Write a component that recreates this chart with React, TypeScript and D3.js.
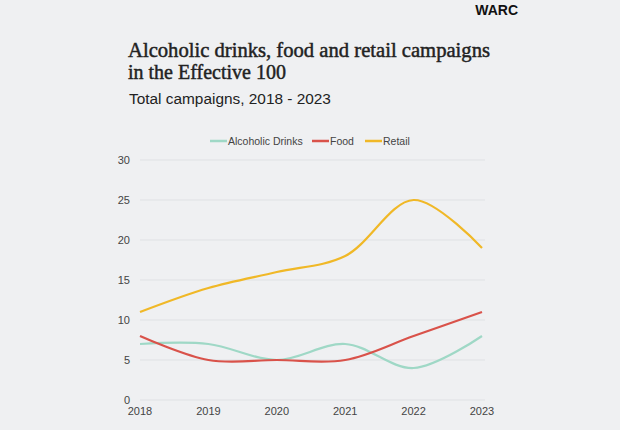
import React from "react";
import * as d3 from "d3";

const years = [2018, 2019, 2020, 2021, 2022, 2023];
const alcoholic = [7, 7, 5, 7, 4, 8];
const food = [8, 5, 5, 5, 8, 11];
const retail = [11, 14, 16, 18, 25, 19];
const yTicks = [0, 5, 10, 15, 20, 25, 30];
const seriesNames = ["Alcoholic Drinks", "Food", "Retail"];
const seriesColors = ["#9fd8c6", "#d9524a", "#f0b827"];

export default function App() {
  const W = 620, H = 430;
  const x = d3.scaleLinear().domain([2018, 2023]).range([140, 482]);
  const y = d3.scaleLinear().domain([0, 30]).range([400, 160]);
  const line = d3
    .line<number>()
    .x((_, i) => x(years[i]))
    .y((d) => y(d))
    .curve(d3.curveCatmullRom.alpha(0.5));
  const all = [alcoholic, food, retail];
  const legendX = [210, 312, 365];
  return (
    <div style={{ position: "absolute", left: 0, top: 0 }}>
      <svg width={W} height={H} style={{ display: "block" }}>
        <rect width={W} height={H} fill="#eff0f2" />
        <text x={518} y={15} textAnchor="end" fontFamily="Liberation Sans, Arial" fontWeight="bold" fontSize={14} fill="#111">WARC</text>
        <text x={128} y={57} fontFamily="Liberation Serif, serif" fontSize={20} fill="#222" stroke="#222" strokeWidth={0.45} textLength={362} lengthAdjust="spacingAndGlyphs">Alcoholic drinks, food and retail campaigns</text>
        <text x={128} y={79} fontFamily="Liberation Serif, serif" fontSize={20} fill="#222" stroke="#222" strokeWidth={0.45}>in the Effective 100</text>
        <text x={129} y={104} fontFamily="Liberation Sans, Arial" fontSize={15.4} fill="#222">Total campaigns, 2018 - 2023</text>
        {seriesNames.map((n, i) => (
          <g key={n}>
            <line x1={legendX[i]} x2={legendX[i] + 17} y1={141} y2={141} stroke={seriesColors[i]} strokeWidth={2.5} />
            <text x={legendX[i] + 18} y={145} fontFamily="Liberation Sans, Arial" fontSize={10.5} fill="#444">{n}</text>
          </g>
        ))}
        {yTicks.map((t) => (
          <g key={t}>
            <line x1={x(2018)} x2={485} y1={y(t)} y2={y(t)} stroke="#dfe1e4" strokeWidth={1} />
            <text x={130} y={y(t) + 4} textAnchor="end" fontFamily="Liberation Sans, Arial" fontSize={11} fill="#444">{t}</text>
          </g>
        ))}
        {years.map((yr) => (
          <text key={yr} x={x(yr)} y={415} textAnchor="middle" fontFamily="Liberation Sans, Arial" fontSize={11} fill="#444">{yr}</text>
        ))}
        {all.map((s, i) => (
          <path key={i} d={line(s) || ""} fill="none" stroke={seriesColors[i]} strokeWidth={2.2} />
        ))}
      </svg>
    </div>
  );
}
